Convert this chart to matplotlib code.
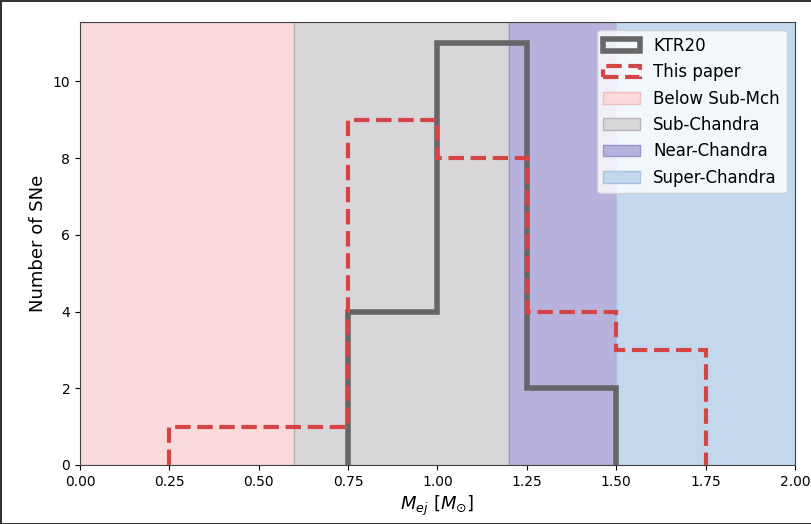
import numpy as np
import matplotlib
matplotlib.use("Agg")
import matplotlib.pyplot as plt

# ---------------- Datos ----------------
ktr20_edges = [0.75, 1.0, 1.25, 1.5]
ktr20_counts = [4, 11, 2]
paper_edges = [0.25, 0.5, 0.75, 1.0, 1.25, 1.5, 1.75]
paper_counts = [1, 1, 9, 8, 4, 3]

region_names = ["Below Sub-Mch", "Sub-Chandra", "Near-Chandra", "Super-Chandra"]
region_bounds = [(0.0, 0.6), (0.6, 1.2), (1.2, 1.5), (1.5, 2.0)]
region_colors = ["#fadada", "#d8d6d8", "#b6b2dc", "#c3d8ed"]
region_edges = ["#f0c0c0", "#b8b4b8", "#9a94cc", "#a8c4e4"]


def centros(edges):
    return [(a + b) / 2 for a, b in zip(edges[:-1], edges[1:])]


# ---------------- Gráfica ----------------
fig = plt.figure(figsize=(8.12, 5.24), dpi=100, edgecolor="#333333", linewidth=2)
ax = fig.add_axes([0.0985, 0.1126, 0.8805, 0.8455])

ax.hist(centros(ktr20_edges), bins=ktr20_edges, weights=ktr20_counts,
        histtype="step", color="#666666", lw=4, label="KTR20", zorder=3)
ax.hist(centros(paper_edges), bins=paper_edges, weights=paper_counts,
        histtype="step", color="#d64545", lw=3, ls="--", label="This paper", zorder=4)

for name, (lo, hi), c, ec in zip(region_names, region_bounds, region_colors, region_edges):
    ax.axvspan(lo, hi, facecolor=c, edgecolor=ec, lw=1, label=name, zorder=1)

ax.set_xlim(0, 2)
ax.set_ylim(0, 11.55)
ax.set_xticks(np.arange(0, 2.01, 0.25))
ax.set_yticks(range(0, 11, 2))
ax.tick_params(labelsize=10)
for s in ax.spines.values():
    s.set_color("#444444")
ax.set_xlabel(r"$M_{ej}$ [$M_{\odot}$]", fontsize=13)
ax.set_ylabel("Number of SNe", fontsize=13)
ax.legend(loc="upper right", fontsize=12, handlelength=2.2)

fig.savefig("out.png", dpi=100)
